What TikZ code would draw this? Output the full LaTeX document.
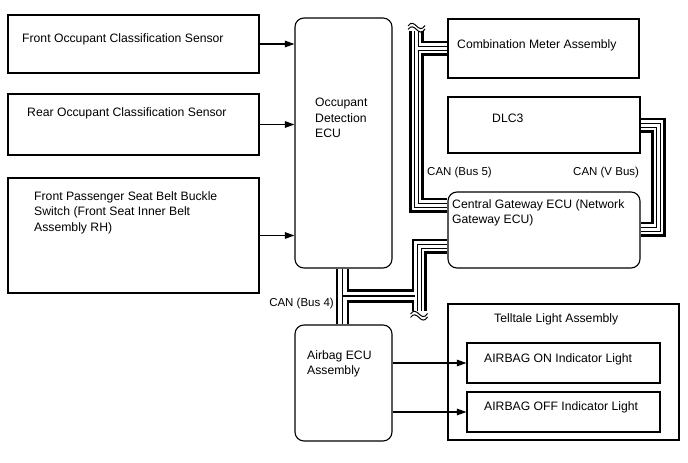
\documentclass[tikz,border=0pt]{standalone}
\usepackage{fontspec}
\setmainfont{Liberation Sans}
\usetikzlibrary{arrows.meta,fit,backgrounds}
\begin{document}
\begin{tikzpicture}[x=1pt,y=-1pt,
  box/.style={draw, line width=1.1pt, inner sep=0pt},
  rbox/.style={box, rounded corners=9pt},
  lbl/.style={font=\fontsize{12.2}{15.5}\selectfont, inner sep=0pt, align=left},
  canlbl/.style={font=\fontsize{11.5}{14}\selectfont, inner sep=0pt},
  arr/.style={line width=1.1pt, -{Triangle[length=9.5pt,width=6.5pt]}},
  brk/.style={line width=1pt}]
\useasboundingbox (0,0) rectangle (688,463);

% boxes
\node[box,  fit={(8,15) (259,73)}]    (fo)  {};
\node[box,  fit={(8,94) (259,155)}]   (ro)  {};
\node[box,  fit={(8,178) (259,293)}]  (fp)  {};
\node[rbox, fit={(295,18) (392,268)}] (ode) {};
\node[box,  fit={(448,19) (639,78)}]  (cm)  {};
\node[box,  fit={(448,97) (640,153)}] (dlc) {};
\node[rbox, fit={(448,192) (640,268)}] (cgw) {};
\node[rbox, fit={(295,325) (392,441)}] (abg) {};
\node[box,  fit={(448,304) (679,440)}] (tl)  {};
\node[box,  fit={(467,343) (660,383)}] (on)  {};
\node[box,  fit={(467,392) (660,432)}] (off) {};

% texts
\node[lbl, anchor=base west] (t1) at (22,42) {Front Occupant Classification Sensor};
\node[lbl, anchor=base west] (t2) at (27,116) {Rear Occupant Classification Sensor};
\node[lbl, anchor=north west] (t3) at (34,191) {Front Passenger Seat Belt Buckle\\Switch (Front Seat Inner Belt\\Assembly RH)};
\node[lbl, anchor=north west] (t4) at (315,98) {Occupant\\Detection\\ECU};
\node[lbl, anchor=base west] (t5) at (457,48) {Combination Meter Assembly};
\node[lbl, anchor=base west] (t6) at (492,122) {DLC3};
\node[lbl, anchor=north west] (t7) at (452,199) {Central Gateway ECU (Network\\Gateway ECU)};
\node[canlbl, anchor=base west] (t8) at (427,175) {CAN (Bus 5)};
\node[canlbl, anchor=base west] (t9) at (573,175) {CAN (V Bus)};
\node[canlbl, anchor=base east] (t10) at (334,306) {CAN (Bus 4)};
\node[lbl, anchor=north west] (t11) at (307,350) {Airbag ECU\\Assembly};
\node[lbl, anchor=base west] (t12) at (494,322) {Telltale Light Assembly};
\node[lbl, anchor=base west] (t13) at (484,362) {AIRBAG ON Indicator Light};
\node[lbl, anchor=base west] (t14) at (484,410) {AIRBAG OFF Indicator Light};

% arrows
\draw[arr] (fo.east) -- (fo.east -| ode.west);
\draw[arr] (ro.east) -- (ro.east -| ode.west);
\draw[arr] (fp.east) -- (fp.east -| ode.west);
\draw[arr] (on.west -| abg.east) -- (on.west);
\draw[arr] (off.west -| abg.east) -- (off.west);

% bus coordinates
\coordinate (b5top) at (416.5,31);
\coordinate (b5bot) at (416.5,205);
\coordinate (b5br)  at (416.5,48);
\coordinate (b4t)   at (342.5,296);
\coordinate (b4c)   at (419,296);
\coordinate (b4ci)  at (414.5,296);
\coordinate (b4g)   at (419,246);
\coordinate (b4end) at (419,311);
\coordinate (vb1)   at (658.5,125);
\coordinate (vb2)   at (658.5,229);

\def\fourline{(b5top) -- (b5bot) -- (b5bot -| cgw.west)
  (b5br) -- (b5br -| cm.west)
  (vb1 -| dlc.east) -- (vb1) -- (vb2) -- (vb2 -| cgw.east)
  (b4g -| cgw.west) -- (b4g) -- (b4end)}
\def\threeline{(b4t |- ode.south) -- (b4t |- abg.north) (b4t) -- (b4c)}

\begin{scope}[on background layer]
  \draw[line width=15pt, black] \fourline;
  \draw[line width=13.5pt, black] \threeline;
  \draw[line width=9.5pt, white] \fourline;
  \draw[line width=8.5pt, white] \threeline;
  \draw[line width=5pt, black] \fourline;
  \draw[line width=3pt, white] \fourline;
  \draw[line width=1.2pt, black] (b4t |- ode.south) -- (b4t |- abg.north) (b4t) -- (b4ci);
\end{scope}

% breaks
\draw[brk] (408,26) .. controls (411,21.5) and (414,23.5) .. (416.5,26) .. controls (419,28.5) and (422,30.5) .. (425,25.5);
\draw[brk] (408,29.5) .. controls (411,25) and (414,27) .. (416.5,29.5) .. controls (419,32) and (422,34) .. (425,29);
\draw[brk] (410.5,314) .. controls (413.5,309.5) and (416.5,311.5) .. (419,314) .. controls (421.5,316.5) and (424.5,318.5) .. (427.5,313.5);
\draw[brk] (410.5,317.5) .. controls (413.5,313) and (416.5,315) .. (419,317.5) .. controls (421.5,320) and (424.5,322) .. (427.5,317);
\end{tikzpicture}
\end{document}
